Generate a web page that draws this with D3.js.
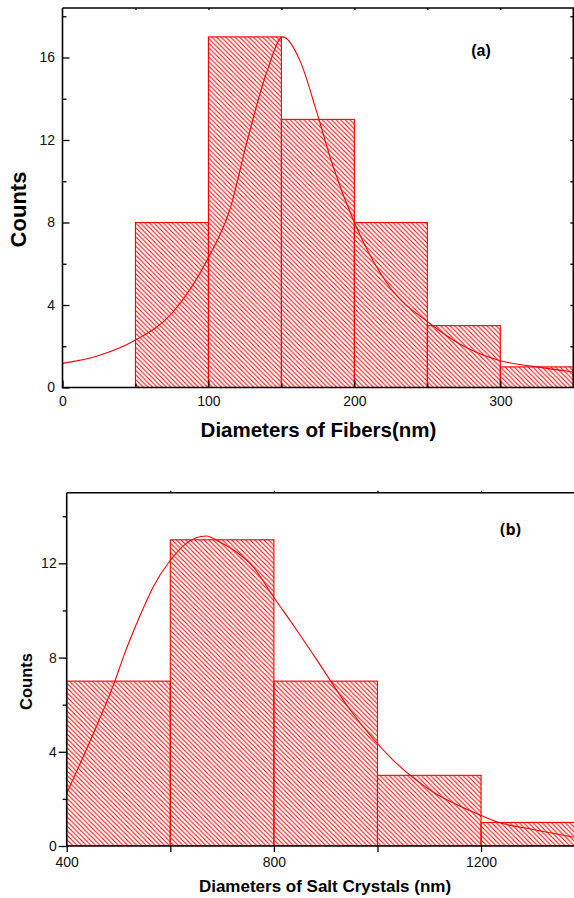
<!DOCTYPE html>
<html>
<head>
<meta charset="utf-8">
<script src="https://cdn.jsdelivr.net/npm/d3@7"></script>
<style>
  body { margin: 0; background: #fff; }
  svg { display: block; }
  .tick text { font-family: Arial, 'Liberation Sans', sans-serif; font-size: 14px; fill: #111; }
  .tick line { stroke: #000; stroke-width: 1.3px; }
  .titulo { font-family: Arial, 'Liberation Sans', sans-serif; font-weight: bold; fill: #000; }
</style>
</head>
<body>
<div id="graf"></div>
<script>
// I.
// (a) fibras
const fiberEdges  = [50, 100, 150, 200, 250, 300, 350]
const fiberCounts = [8, 17, 13, 8, 3, 1]
const fiberFitX = [0, 25, 50, 75, 100, 115, 126, 140, 151, 163, 174, 185, 200, 225, 250, 275, 300, 325, 350]
const fiberFitY = [1.17, 1.55, 2.3, 3.6, 6.3, 8.7, 11.8, 15.3, 17.0, 15.8, 13.4, 10.8, 8.0, 4.8, 3.2, 2.0, 1.3, 1.0, 0.75]
const fiberXTicks = [0, 100, 200, 300]
const fiberYTicks = [0, 4, 8, 12, 16]

// (b) cristales de sal
const crystalEdges  = [400, 600, 800, 1000, 1200, 1400]
const crystalCounts = [7, 13, 7, 3, 1]
const crystalFitX = [400, 450, 493, 509, 540, 567, 599, 631, 669, 696, 730, 760, 799, 840, 879, 950, 1030, 1100, 1198, 1230, 1300, 1380]
const crystalFitY = [2.24, 4.7, 7.0, 8.0, 9.7, 11.0, 12.1, 12.85, 13.16, 12.9, 12.45, 11.85, 10.58, 9.3, 8.03, 5.7, 3.65, 2.4, 1.32, 1.03, 0.7, 0.37]
const crystalXTicks = [400, 800, 1200]
const crystalYTicks = [0, 4, 8, 12]

// II. Lienzo
const W = 574, H = 898
const svg = d3.select('#graf').append('svg')
  .attr('width', W).attr('height', H)

const defs = svg.append('defs')
const s = 4.6
defs.append('pattern')
    .attr('id', 'hatch')
    .attr('patternUnits', 'userSpaceOnUse')
    .attr('width', s).attr('height', s)
  .append('path')
    .attr('d', `M0,0L${s},${s}M-1,${s - 1}L1,${s + 1}M${s - 1},-1L${s + 1},1`)
    .attr('stroke', '#ff0000')
    .attr('stroke-width', 1)

// III. Panel generico
function panel(cfg) {
  const x = d3.scaleLinear().domain(cfg.xDomain).range([cfg.left, cfg.right])
  const y = d3.scaleLinear().domain(cfg.yDomain).range([cfg.bottom, cfg.top])

  const clipId = 'clip-' + cfg.id
  defs.append('clipPath').attr('id', clipId)
    .append('rect')
      .attr('x', cfg.left).attr('y', cfg.top)
      .attr('width', cfg.right - cfg.left).attr('height', cfg.bottom - cfg.top)

  const g = svg.append('g')
  const plot = g.append('g').attr('clip-path', `url(#${clipId})`)

  const bins = cfg.counts.map((c, i) => ({ x0: cfg.edges[i], x1: cfg.edges[i + 1], c }))

  plot.selectAll('rect.bg').data(bins).enter().append('rect')
      .attr('class', 'bg')
      .attr('x', d => x(d.x0)).attr('width', d => x(d.x1) - x(d.x0))
      .attr('y', d => y(d.c)).attr('height', d => y(0) - y(d.c))
      .attr('fill', '#fff')

  plot.selectAll('rect.bar').data(bins).enter().append('rect')
      .attr('class', 'bar')
      .attr('x', d => x(d.x0)).attr('width', d => x(d.x1) - x(d.x0))
      .attr('y', d => y(d.c)).attr('height', d => y(0) - y(d.c))
      .attr('fill', 'url(#hatch)')
      .attr('stroke', '#ff0000')
      .attr('stroke-width', 1.1)

  const pts = cfg.fitX.map((v, i) => [v, cfg.fitY[i]])
  const line = d3.line().x(d => x(d[0])).y(d => y(d[1])).curve(d3.curveMonotoneX)
  plot.append('path')
      .datum(pts)
      .attr('d', line)
      .attr('fill', 'none')
      .attr('stroke', '#ff0000')
      .attr('stroke-width', 1.1)

  // ejes
  const t = cfg.tick
  const yMajor = d3.axisLeft(y).tickValues(cfg.yTicks).tickFormat(d3.format('d'))
                   .tickSizeInner(t.major).tickSizeOuter(0).tickPadding(t.yPad)
  const yMinor = d3.axisLeft(y).tickValues(cfg.yMinor).tickFormat('')
                   .tickSizeInner(t.minor).tickSizeOuter(0)
  const xMajor = d3.axisBottom(x).tickValues(cfg.xTicks).tickFormat(d3.format('d'))
                   .tickSizeInner(t.xMajor).tickSizeOuter(0).tickPadding(t.xPad)
  const xMinor = d3.axisBottom(x).tickValues(cfg.xMinor).tickFormat('')
                   .tickSizeInner(t.xMinor).tickSizeOuter(0)
  const xTop = d3.axisTop(x).tickValues(cfg.topTicks).tickFormat('')
                   .tickSizeInner(t.top).tickSizeOuter(0)

  const axes = [
    [yMajor, `translate(${cfg.left},0)`],
    [yMinor, `translate(${cfg.left},0)`],
    [xMajor, `translate(0,${cfg.bottom})`],
    [xMinor, `translate(0,${cfg.bottom})`],
    [xTop, `translate(0,${cfg.top})`]
  ]
  if (cfg.rightTicks) {
    axes.push([d3.axisRight(y).tickValues(cfg.rightTicks).tickFormat('')
                 .tickSizeInner(-3).tickSizeOuter(0), `translate(${cfg.right},0)`])
  }
  axes.forEach(([a, tr]) => {
    const ag = g.append('g').attr('transform', tr).call(a)
    ag.select('.domain').remove()
  })

  // marco
  const fr = g.append('path')
      .attr('fill', 'none').attr('stroke', '#000').attr('stroke-width', 1.6)
  let d = `M${cfg.left},${cfg.top}V${cfg.bottom}H${cfg.right}`
  d += cfg.rightFrame ? `V${cfg.top}H${cfg.left}` : `M${cfg.left},${cfg.top}H${cfg.right}`
  fr.attr('d', d)

  return { g, x, y }
}

// IV. Panel (a)
const pa = panel({
  id: 'a', left: 62.5, right: 573.3, top: 8, bottom: 387.5,
  xDomain: [0, 350], yDomain: [0, 18.4],
  edges: fiberEdges, counts: fiberCounts, fitX: fiberFitX, fitY: fiberFitY,
  xTicks: fiberXTicks, yTicks: fiberYTicks,
  xMinor: [50, 150, 250], yMinor: [2, 6, 10, 14, 18],
  topTicks: [50, 100, 150, 200, 250, 300], rightTicks: [2, 4, 6, 8, 10, 12, 14, 16, 18],
  rightFrame: true,
  tick: { major: -7, minor: -4, xMajor: -7, xMinor: -4, top: -2, yPad: 7.5, xPad: 9 }
})

pa.g.append('text').attr('class', 'titulo')
    .attr('transform', 'translate(25.5,209.5) rotate(-90)')
    .attr('text-anchor', 'middle')
    .style('font-size', '22px')
    .text('Counts')

pa.g.append('text').attr('class', 'titulo')
    .attr('x', 318.5).attr('y', 437)
    .attr('text-anchor', 'middle')
    .style('font-size', '20.5px')
    .text('Diameters of Fibers(nm)')

pa.g.append('text').attr('class', 'titulo')
    .attr('x', 481).attr('y', 56)
    .attr('text-anchor', 'middle')
    .style('font-size', '16px')
    .text('(a)')

// V. Panel (b)
const pb = panel({
  id: 'b', left: 66.7, right: 574.3, top: 492.7, bottom: 846,
  xDomain: [400, 1380], yDomain: [0, 15],
  edges: crystalEdges, counts: crystalCounts, fitX: crystalFitX, fitY: crystalFitY,
  xTicks: crystalXTicks, yTicks: crystalYTicks,
  xMinor: [600, 1000], yMinor: [2, 6, 10, 14],
  topTicks: [600, 800, 1000, 1200], rightTicks: null,
  rightFrame: false,
  tick: { major: 8, minor: 4, xMajor: 6, xMinor: 6, top: 2, yPad: 2, xPad: 4.7 }
})

pb.g.append('text').attr('class', 'titulo')
    .attr('transform', 'translate(32,681.5) rotate(-90)')
    .attr('text-anchor', 'middle')
    .style('font-size', '16.5px')
    .text('Counts')

pb.g.append('text').attr('class', 'titulo')
    .attr('x', 325).attr('y', 892)
    .attr('text-anchor', 'middle')
    .style('font-size', '17px')
    .text('Diameters of Salt Crystals (nm)')

pb.g.append('text')
    .attr('x', 510.5).attr('y', 535)
    .attr('text-anchor', 'middle')
    .style('font-family', "'Open Sans', 'DejaVu Sans', sans-serif")
    .style('font-weight', 'bold')
    .style('font-size', '16px')
    .text('(b)')
</script>
</body>
</html>
